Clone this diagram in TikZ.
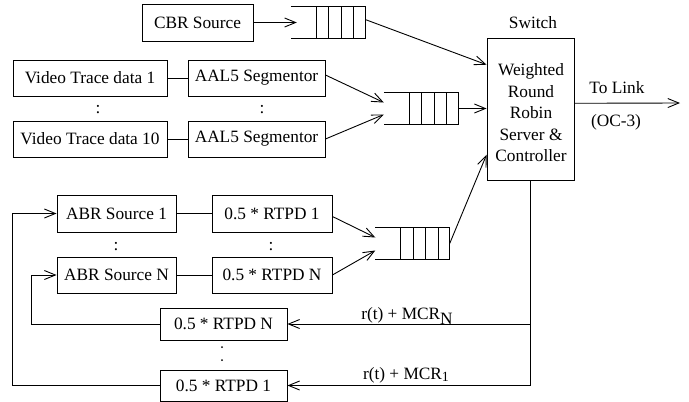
\documentclass[tikz,border=0pt]{standalone}
\usepackage{fontspec}
\setmainfont{Liberation Serif}
\usetikzlibrary{calc,arrows.meta}

\tikzset{
  blk/.style={draw, rectangle, inner sep=0pt, line width=0.9pt},
  qbox/.style={rectangle, inner sep=0pt, minimum width=74pt, minimum height=31pt},
  wire/.style={line width=0.9pt},
  arr/.style={wire, -{Straight Barb[length=11pt,width=9pt,line width=0.9pt]}},
  lbl/.style={inner sep=0pt},
  dotmark/.style={circle, fill, inner sep=0pt, minimum size=2pt},
}

% open-ended queue: top, bottom and closed right side, plus four cell walls
\newcommand\queuebody[1]{%
  \draw[wire] (#1.north west) -- (#1.north east) -- (#1.south east) -- (#1.south west);
  \foreach \f in {0.34,0.51,0.68,0.845}
    \draw[wire] ($(#1.north west)!\f!(#1.north east)$) -- ($(#1.south west)!\f!(#1.south east)$);
}

\begin{document}
\begin{tikzpicture}[x=1pt,y=-1pt,font=\fontsize{17.3}{21.5}\selectfont]
\useasboundingbox (0,0) rectangle (689,402);

% sources
\node[blk, minimum width=111pt, minimum height=37pt] (cbr) at (197.5,22.5) {CBR Source};
\node[blk, minimum width=154pt, minimum height=36pt] (vt1) at (90,78) {Video Trace data 1};
\node[blk, minimum width=137pt, minimum height=36pt] (aal1) at (256.5,78) {AAL5 Segmentor};
\node[blk, minimum width=154pt, minimum height=36pt] (vt10) at (90,139) {Video Trace data 10};
\node[blk, minimum width=137pt, minimum height=36pt] (aal10) at (256.5,139) {AAL5 Segmentor};
\node[lbl] (d1) at (98,110) {:};
\node[lbl] (d2) at (262,110) {:};

\node[blk, minimum width=119pt, minimum height=37pt] (abr1) at (116.5,213.5) {ABR Source 1};
\node[blk, minimum width=120pt, minimum height=37pt] (rt1) at (272,213.5) {0.5 * RTPD 1};
\node[blk, minimum width=119pt, minimum height=36pt] (abrn) at (116.5,275) {ABR Source N};
\node[blk, minimum width=120pt, minimum height=36pt] (rtn) at (272,275) {0.5 * RTPD N};
\node[lbl] (d3) at (116,247) {:};
\node[lbl] (d4) at (271,247) {:};

% feedback delay boxes
\node[blk, minimum width=127pt, minimum height=32pt] (fbn) at (223.5,324) {0.5 * RTPD N};
\node[blk, minimum width=127pt, minimum height=31pt] (fb1) at (223.5,385.5) {0.5 * RTPD 1};
\node[dotmark] (d5) at (222,347) {};
\node[dotmark] (d6) at (222,360) {};

% queues
\node[qbox] (q1) at (328,22.5) {};
\node[qbox] (q2) at (421,108.5) {};
\node[qbox] (q3) at (412.5,243.5) {};
\queuebody{q1}
\queuebody{q2}
\queuebody{q3}

% switch
\node[blk, minimum width=87pt, minimum height=142pt] (sw) at (530.5,109) {};
\node[lbl, align=center] (swt) at (531,113) {Weighted\\Round\\Robin\\Server \&\\Controller};
\node[lbl] (swl) at (533,23) {Switch};

% forward connectors
\draw[wire] (vt1) -- (aal1);
\draw[wire] (vt10) -- (aal10);
\draw[wire] (abr1) -- (rt1);
\draw[wire] (abrn) -- (rtn);

\draw[arr, shorten >=-6pt] (cbr) -- (q1.west);
\draw[arr] ([yshift=3pt]aal1.east) -- ([yshift=6pt]q2.west);
\draw[arr] (aal10.east) -- ([yshift=-6pt]q2.west);
\draw[arr] ([yshift=-3pt]rt1.east) -- ([yshift=6pt]q3.west);
\draw[arr] (rtn.east) -- ([yshift=-7pt]q3.west);

\draw[arr] ([yshift=3pt]q1.east) -- ($(sw.north west)!0.19!(sw.south west)$);
\draw[arr] (q2.east) -- (q2.east -| sw.west);
\draw[arr] (q3.east) -- ($(sw.north west)!0.82!(sw.south west)$);

% output link
\coordinate (lk0) at ($(sw.north east)!0.46!(sw.south east)$);
\coordinate (lk1) at (680,103);
\draw[arr] (lk0) -- (lk1);
\node[lbl] (tl) at (617,88) {To Link};
\node[lbl] (oc) at (616,122) {(OC-3)};

% feedback path
\coordinate (fbt) at (sw.south |- fb1.east);
\draw[wire] (sw.south) -- (fbt);
\draw[arr] (sw.south |- fbn.east) -- (fbn.east);
\draw[arr] (fbt) -- (fb1.east);
\draw[arr] (fbn.west) -| ([xshift=-25pt]abrn.west) -- (abrn.west);
\draw[arr] (fb1.west) -| ([xshift=-44pt]abr1.west) -- (abr1.west);
\node[lbl] (mn) at (407,316) {r(t) + MCR\raisebox{-5pt}{N}};
\node[lbl] (m1) at (406,375) {r(t) + MCR\raisebox{-2pt}{\fontsize{14}{14}\selectfont 1}};
\end{tikzpicture}
\end{document}
